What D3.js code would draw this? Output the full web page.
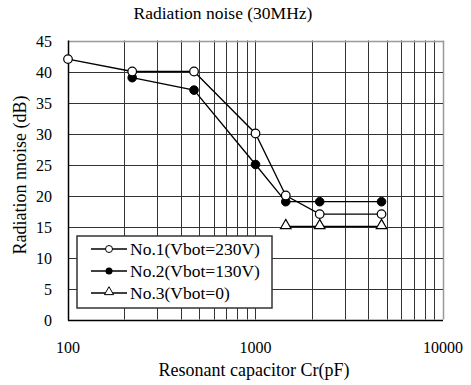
<!DOCTYPE html>
<html><head><meta charset="utf-8">
<script src="https://cdn.jsdelivr.net/npm/d3@7"></script>
</head><body style="margin:0"><svg id="c" width="471" height="385"></svg>
<script>
const capacitance1 = [100, 220, 470, 1000, 1450, 2200, 4700];
const noise1 = [42, 40, 40, 30, 20, 17, 17];
const capacitance2 = [220, 470, 1000, 1450, 2200, 4700];
const noise2 = [39, 37, 25, 19, 19, 19];
const capacitance3 = [1450, 2200, 4700];
const noise3 = [15, 15, 15];
const seriesNames = ["No.1(Vbot=230V)", "No.2(Vbot=130V)", "No.3(Vbot=0)"];
const xTickValues = [100, 1000, 10000];
const yTickValues = [0, 5, 10, 15, 20, 25, 30, 35, 40, 45];

const svg = d3.select("#c");
const x = d3.scaleLog().domain([100, 10000]).range([68, 443]);
const y = d3.scaleLinear().domain([0, 45]).range([319.5, 40.5]);
const rx = v => Math.round(x(v)) + 0.5;
const ry = v => Math.round(y(v)) + 0.5;

// vertical grid
const minor = [];
for (let d = 100; d < 10000; d *= 10) for (let k = 2; k <= 10; k++) minor.push(d * k);
svg.append("g").selectAll("line").data(minor).join("line")
  .attr("x1", d => rx(d)).attr("x2", d => rx(d))
  .attr("y1", y(45)).attr("y2", y(0))
  .attr("stroke", d => d === 10000 ? "#999" : "#333").attr("stroke-width", d => d === 10000 ? 1.5 : 1);
// horizontal grid
svg.append("g").selectAll("line").data(yTickValues.slice(1)).join("line")
  .attr("x1", x(100)).attr("x2", x(10000))
  .attr("y1", d => ry(d)).attr("y2", d => ry(d))
  .attr("stroke", d => d === 45 ? "#999" : "#333").attr("stroke-width", d => d === 45 ? 1.5 : 1);
// axes lines
svg.append("line").attr("x1", rx(100)).attr("x2", rx(100)).attr("y1", y(45)).attr("y2", y(0) + 1).attr("stroke", "#000").attr("stroke-width", 1.5);
svg.append("line").attr("x1", x(100)).attr("x2", x(10000)).attr("y1", ry(0)).attr("y2", ry(0)).attr("stroke", "#000").attr("stroke-width", 1.5);

// tick labels
svg.append("g").selectAll("text").data(yTickValues).join("text")
  .attr("font-family", "Liberation Serif")
  .attr("x", 52).attr("y", d => y(d) + 6).attr("text-anchor", "end")
  .attr("font-size", 16).text(d => d);
svg.append("g").selectAll("text").data(xTickValues).join("text")
  .attr("font-family", "Liberation Serif")
  .attr("x", d => x(d)).attr("y", 353).attr("text-anchor", "middle")
  .attr("font-size", 16).text(d => d);

// titles
svg.append("text").attr("font-family", "Liberation Serif").attr("x", 223).attr("y", 19).attr("text-anchor", "middle").attr("font-size", 17.5).text("Radiation noise (30MHz)");
svg.append("text").attr("font-family", "Liberation Serif").attr("x", 254).attr("y", 376).attr("text-anchor", "middle").attr("font-size", 18).text("Resonant capacitor Cr(pF)");
svg.append("text").attr("font-family", "Liberation Serif").attr("transform", "translate(26,175) rotate(-90)").attr("text-anchor", "middle").attr("font-size", 18).text("Radiation nnoise (dB)");

const line = d3.line().x(d => x(d[0])).y(d => y(d[1]));
const s1 = capacitance1.map((c, i) => [c, noise1[i]]);
const s2 = capacitance2.map((c, i) => [c, noise2[i]]);
const s3 = capacitance3.map((c, i) => [c, noise3[i]]);
const tri = d3.symbol().type(d3.symbolTriangle);

[s1, s2, s3].forEach(s => svg.append("path").attr("d", line(s)).attr("fill", "none").attr("stroke", "#000").attr("stroke-width", 1.3));
svg.append("g").selectAll("circle").data(s2).join("circle")
  .attr("cx", d => x(d[0])).attr("cy", d => y(d[1])).attr("r", 4.3).attr("fill", "#000").attr("stroke", "#000");
svg.append("g").selectAll("circle").data(s1).join("circle")
  .attr("cx", d => x(d[0])).attr("cy", d => y(d[1])).attr("r", 4.3).attr("fill", "#fff").attr("stroke", "#000").attr("stroke-width", 1.2);
svg.append("g").selectAll("path").data(s3).join("path")
  .attr("transform", d => `translate(${x(d[0])},${y(d[1]) - 1})`).attr("d", tri.size(48)())
  .attr("fill", "#fff").attr("stroke", "#000").attr("stroke-width", 1.2);

// legend
const lg = svg.append("g");
lg.append("rect").attr("x", 77).attr("y", 236).attr("width", 195).attr("height", 72)
  .attr("fill", "#fff").attr("stroke", "#333").attr("stroke-width", 1.5);
const rows = [249, 271, 293];
seriesNames.forEach((n, i) => {
  const yy = rows[i];
  lg.append("line").attr("x1", 91).attr("x2", 127).attr("y1", yy).attr("y2", yy).attr("stroke", "#000").attr("stroke-width", 1.3);
  if (i === 0) lg.append("circle").attr("cx", 109).attr("cy", yy).attr("r", 3.5).attr("fill", "#fff").attr("stroke", "#000");
  if (i === 1) lg.append("circle").attr("cx", 109).attr("cy", yy).attr("r", 3.5).attr("fill", "#000");
  if (i === 2) lg.append("path").attr("transform", `translate(109,${yy - 1})`).attr("d", tri.size(36)()).attr("fill", "#fff").attr("stroke", "#000");
  lg.append("text").attr("font-family", "Liberation Serif").attr("x", 130).attr("y", yy + 6).attr("font-size", 17.5).text(n);
});
</script></body></html>
